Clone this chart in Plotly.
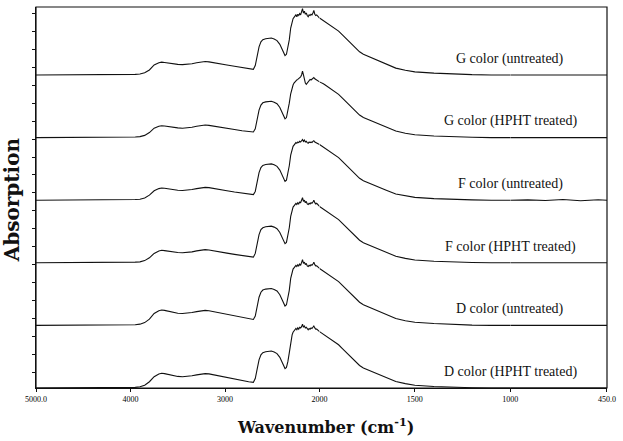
import plotly.graph_objects as go

# ---------------- data ----------------
wavenumber = [5000, 4600, 4200, 4000, 3950, 3900, 3850, 3800, 3750, 3700, 3670, 3640, 3600, 3550,
              3500, 3450, 3400, 3350, 3300, 3250, 3210, 3170, 3120, 3050, 2980, 2900, 2820, 2750, 2700,
              2680, 2660, 2640, 2620, 2600, 2570, 2540, 2510, 2480, 2450, 2420, 2400, 2380, 2365, 2350,
              2335, 2320, 2305, 2290, 2280, 2270,
              2260, 2250, 2240, 2230, 2220, 2210, 2200, 2190, 2180, 2170, 2160, 2150, 2140, 2130, 2120,
              2110, 2100, 2090, 2080, 2070, 2060, 2050, 2040, 2030, 2020, 2010, 2000,
              1990, 1980, 1970, 1960, 1940, 1920, 1900, 1880, 1860, 1840, 1825, 1810, 1790, 1770, 1740,
              1710, 1680, 1650, 1600, 1550, 1500, 1400, 1300, 1200, 1100, 1000, 900, 800, 700, 600, 500, 450]

g_untreated = [0.00, 0.00, 0.00, 0.005, 0.01, 0.015, 0.035, 0.08, 0.16, 0.195, 0.205, 0.20, 0.19, 0.175,
               0.17, 0.165, 0.17, 0.18, 0.195, 0.21, 0.215, 0.21, 0.20, 0.18, 0.16, 0.14, 0.12, 0.10, 0.09,
               0.15, 0.30, 0.45, 0.53, 0.565, 0.58, 0.59, 0.59, 0.575, 0.55, 0.49, 0.42, 0.35, 0.31, 0.33,
               0.42, 0.56, 0.75, 0.87, 0.90, 0.92,
               0.94, 0.96, 0.93, 0.97, 0.95, 0.98, 0.96, 1.00, 1.06, 0.99, 1.02, 0.97, 0.99, 0.95, 0.93,
               0.96, 0.95, 0.97, 0.96, 0.99, 1.03, 0.97, 0.95, 0.96, 0.94, 0.93, 0.91,
               0.89, 0.87, 0.85, 0.83, 0.79, 0.75, 0.70, 0.64, 0.58, 0.52, 0.47, 0.42, 0.37, 0.33, 0.29,
               0.25, 0.21, 0.17, 0.11, 0.075, 0.05, 0.03, 0.012, 0.005, 0.0, 0.0, 0.0, 0.0, 0.0, 0.0, 0.0, 0.0]

g_hpht = [0.00, 0.00, 0.00, 0.005, 0.01, 0.015, 0.035, 0.08, 0.15, 0.18, 0.19, 0.185, 0.175, 0.16,
          0.155, 0.15, 0.155, 0.165, 0.18, 0.195, 0.20, 0.195, 0.185, 0.17, 0.15, 0.13, 0.11, 0.10, 0.09,
          0.14, 0.29, 0.44, 0.52, 0.555, 0.57, 0.58, 0.58, 0.565, 0.54, 0.48, 0.41, 0.34, 0.30, 0.32,
          0.41, 0.55, 0.70, 0.80, 0.84, 0.87,
          0.89, 0.91, 0.92, 0.93, 0.94, 0.95, 0.97, 1.00, 1.06, 1.00, 0.92, 0.87, 0.85, 0.87, 0.90,
          0.92, 0.93, 0.92, 0.93, 0.95, 0.96, 0.94, 0.93, 0.92, 0.91, 0.90, 0.89,
          0.88, 0.86, 0.84, 0.82, 0.78, 0.74, 0.69, 0.63, 0.57, 0.51, 0.46, 0.41, 0.36, 0.32, 0.28,
          0.24, 0.20, 0.16, 0.105, 0.07, 0.045, 0.025, 0.01, 0.005, 0.0, 0.0, 0.0, 0.0, 0.0, 0.0, 0.0, 0.0]

f_untreated = [0.00, 0.00, 0.00, 0.005, 0.01, 0.015, 0.035, 0.08, 0.15, 0.185, 0.195, 0.19, 0.18, 0.165,
               0.16, 0.155, 0.16, 0.17, 0.185, 0.20, 0.205, 0.20, 0.19, 0.17, 0.15, 0.13, 0.115, 0.10, 0.09,
               0.14, 0.29, 0.44, 0.52, 0.555, 0.57, 0.58, 0.58, 0.565, 0.54, 0.48, 0.41, 0.34, 0.30, 0.32,
               0.41, 0.55, 0.72, 0.82, 0.86, 0.88,
               0.90, 0.92, 0.91, 0.93, 0.92, 0.94, 0.93, 0.95, 0.97, 0.94, 0.96, 0.93, 0.94, 0.92, 0.91,
               0.93, 0.92, 0.93, 0.92, 0.94, 0.95, 0.93, 0.92, 0.92, 0.91, 0.90, 0.89,
               0.87, 0.85, 0.83, 0.81, 0.77, 0.73, 0.68, 0.62, 0.56, 0.50, 0.45, 0.40, 0.35, 0.31, 0.27,
               0.23, 0.19, 0.16, 0.10, 0.07, 0.045, 0.025, 0.01, 0.005, 0.0, 0.0, 0.005, -0.005, 0.01, -0.01, 0.008, 0.0]

f_hpht = [0.00, 0.00, 0.00, 0.005, 0.01, 0.015, 0.035, 0.08, 0.15, 0.19, 0.20, 0.195, 0.185, 0.17,
          0.165, 0.16, 0.165, 0.175, 0.19, 0.205, 0.21, 0.205, 0.195, 0.175, 0.155, 0.135, 0.115, 0.10, 0.09,
          0.15, 0.30, 0.45, 0.53, 0.56, 0.575, 0.585, 0.585, 0.57, 0.545, 0.485, 0.415, 0.345, 0.305, 0.325,
          0.42, 0.56, 0.74, 0.85, 0.89, 0.91,
          0.93, 0.95, 0.93, 0.96, 0.94, 0.97, 0.96, 0.99, 1.04, 0.98, 1.00, 0.96, 0.98, 0.94, 0.93,
          0.95, 0.94, 0.96, 0.95, 0.97, 1.00, 0.96, 0.94, 0.95, 0.93, 0.92, 0.90,
          0.88, 0.86, 0.84, 0.82, 0.78, 0.74, 0.69, 0.63, 0.57, 0.51, 0.46, 0.41, 0.36, 0.32, 0.28,
          0.24, 0.20, 0.165, 0.105, 0.07, 0.045, 0.025, 0.01, 0.005, 0.0, 0.0, 0.0, 0.0, 0.0, 0.0, 0.0, 0.0]

d_untreated = [0.00, 0.00, 0.00, 0.005, 0.01, 0.02, 0.045, 0.10, 0.19, 0.235, 0.245, 0.24, 0.225, 0.205,
               0.195, 0.19, 0.195, 0.205, 0.22, 0.235, 0.24, 0.235, 0.22, 0.195, 0.17, 0.145, 0.12, 0.105, 0.095,
               0.15, 0.30, 0.45, 0.53, 0.565, 0.58, 0.59, 0.59, 0.575, 0.55, 0.49, 0.42, 0.35, 0.31, 0.33,
               0.42, 0.56, 0.75, 0.86, 0.90, 0.92,
               0.94, 0.96, 0.94, 0.97, 0.95, 0.98, 0.96, 1.00, 1.05, 0.99, 1.01, 0.97, 0.99, 0.95, 0.94,
               0.96, 0.95, 0.97, 0.96, 0.98, 1.01, 0.97, 0.95, 0.95, 0.94, 0.93, 0.91,
               0.89, 0.87, 0.85, 0.83, 0.79, 0.75, 0.70, 0.64, 0.58, 0.52, 0.47, 0.42, 0.37, 0.33, 0.29,
               0.25, 0.21, 0.17, 0.11, 0.075, 0.05, 0.03, 0.012, 0.005, 0.0, 0.0, 0.0, 0.0, 0.0, 0.0, 0.0, 0.0]

d_hpht = [0.00, 0.00, 0.00, 0.005, 0.01, 0.02, 0.045, 0.10, 0.18, 0.225, 0.235, 0.23, 0.215, 0.195,
          0.185, 0.18, 0.185, 0.195, 0.21, 0.225, 0.23, 0.225, 0.21, 0.185, 0.16, 0.14, 0.12, 0.10, 0.09,
          0.15, 0.30, 0.45, 0.53, 0.565, 0.58, 0.59, 0.59, 0.575, 0.55, 0.49, 0.42, 0.35, 0.31, 0.33,
          0.42, 0.56, 0.74, 0.85, 0.89, 0.91,
          0.93, 0.95, 0.93, 0.96, 0.94, 0.97, 0.96, 0.98, 1.02, 0.97, 0.99, 0.96, 0.97, 0.94, 0.93,
          0.95, 0.94, 0.96, 0.95, 0.97, 0.99, 0.96, 0.94, 0.94, 0.93, 0.92, 0.90,
          0.88, 0.86, 0.84, 0.82, 0.78, 0.74, 0.69, 0.63, 0.57, 0.51, 0.46, 0.41, 0.36, 0.32, 0.28,
          0.24, 0.20, 0.165, 0.105, 0.07, 0.045, 0.025, 0.01, 0.005, 0.0, 0.0, 0.0, 0.0, 0.0, 0.0, 0.0, 0.0]

spectra = [g_untreated, g_hpht, f_untreated, f_hpht, d_untreated, d_hpht]
labels = ["G color (untreated)", "G color (HPHT treated)", "F color (untreated)",
          "F color (HPHT treated)", "D color (untreated)", "D color (HPHT treated)"]
offsets = [5, 4, 3, 2, 1, 0]

tick_vals_1 = [5000, 4000, 3000]
tick_text_1 = ["5000.0", "4000", "3000"]
tick_vals_2 = [2000, 1500, 1000]
tick_text_2 = ["2000", "1500", "1000"]
tick_vals_3 = [450]
tick_text_3 = ["450.0"]

for s in spectra:
    assert len(s) == len(wavenumber), len(s)

# ---------------- figure ----------------
fig = go.Figure()
segments = [("x", 5000, 2000), ("x2", 2000, 1000), ("x3", 1000, 450)]
for spec, off in zip(spectra, offsets):
    for ax, hi, lo in segments:
        xs = [w for w in wavenumber if lo <= w <= hi]
        ys = [v + off for w, v in zip(wavenumber, spec) if lo <= w <= hi]
        fig.add_trace(go.Scatter(x=xs, y=ys, xaxis=ax, yaxis="y", mode="lines",
                                 line=dict(color="#111111", width=1.1),
                                 showlegend=False, hoverinfo="skip"))

tickfont = dict(family="Liberation Serif", size=8, color="#000000")
common_x = dict(showline=True, linecolor="#111111", linewidth=1.2, ticks="outside", ticklen=3,
                tickcolor="#111111", showgrid=False, zeroline=False, anchor="y", tickfont=tickfont)

d1 = (323 - 36) / 578
d2 = (516 - 36) / 578
fig.update_layout(
    width=623, height=441,
    margin=dict(l=36, r=9, t=7, b=53),
    paper_bgcolor="white", plot_bgcolor="white",
    xaxis=dict(domain=[0, d1], range=[5000, 2000], tickvals=tick_vals_1, ticktext=tick_text_1, **common_x),
    xaxis2=dict(domain=[d1, d2], range=[2000, 1000], tickvals=tick_vals_2, ticktext=tick_text_2, **common_x),
    xaxis3=dict(domain=[d2, 1], range=[1000, 450], tickvals=tick_vals_3, ticktext=tick_text_3, **common_x),
    yaxis=dict(domain=[0, 1], range=[0, 6.086], showline=True, linecolor="#111111", linewidth=1.2,
               ticks="outside", ticklen=3, tickcolor="#111111", tick0=0.24, dtick=0.2875,
               showticklabels=False, showgrid=False, zeroline=False, anchor="x"),
    shapes=[dict(type="rect", xref="paper", yref="paper", x0=0, y0=0, x1=1, y1=1,
                 line=dict(color="#111111", width=1.2))],
)

for lab, off in zip(labels, offsets):
    fig.add_annotation(x=1000, y=off + 0.26, xref="x2", yref="y", text=lab, showarrow=False,
                       xanchor="center", yanchor="middle",
                       font=dict(family="Liberation Serif", size=14, color="#111111"))

fig.add_annotation(x=(329 - 36) / 578, y=(388 - 426) / 381, xref="paper", yref="paper",
                   text="<b>Wavenumber (cm<sup>-1</sup>)</b>", showarrow=False,
                   xanchor="center", yanchor="middle",
                   font=dict(family="DejaVu Serif", size=16, color="#111111"))
fig.add_annotation(x=(12 - 36) / 578, y=(388 - 200) / 381, xref="paper", yref="paper",
                   text="<b>Absorption</b>", showarrow=False, textangle=-90,
                   xanchor="center", yanchor="middle",
                   font=dict(family="DejaVu Serif", size=20, color="#111111"))

fig.write_html("out.html", config={"displayModeBar": False},
               post_script="document.body.style.margin='0px';")
